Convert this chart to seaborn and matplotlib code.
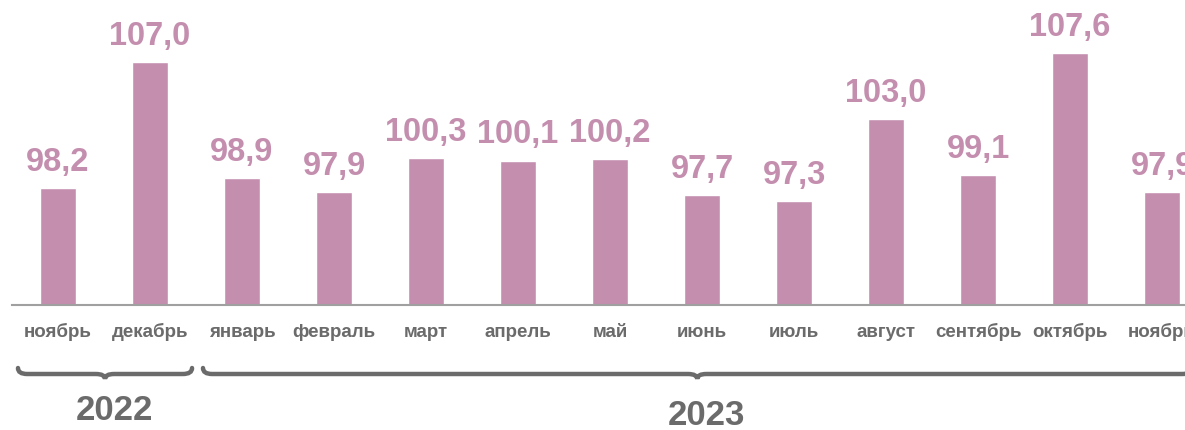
import matplotlib
matplotlib.use('Agg')
import matplotlib.pyplot as plt
import matplotlib.transforms as mtransforms
from matplotlib.path import Path
from matplotlib.patches import PathPatch
import seaborn as sns

# data
months = ['ноябрь', 'декабрь', 'январь', 'февраль', 'март', 'апрель', 'май',
          'июнь', 'июль', 'август', 'сентябрь', 'октябрь', 'ноябрь']
values = [98.2, 107.0, 98.9, 97.9, 100.3, 100.1, 100.2, 97.7, 97.3, 103.0, 99.1, 107.6, 97.9]
years = ['2022', '2023']

bar_color = '#C48EAF'
grey = '#6B6B6B'

sns.set_style('white')
plt.rcParams['font.family'] = ['Liberation Sans', 'DejaVu Sans']

fig = plt.figure(figsize=(11.85, 4.31), dpi=100)
ax = fig.add_axes([12 / 1185, 1 - 306 / 431, 1 - 12 / 1185, 306 / 431])

pos = list(range(len(values)))
sns.barplot(x=pos, y=values, color=bar_color, width=0.4, saturation=1, ax=ax)

ax.set_xlim(-0.5, 12.25)
ax.set_ylim(90, 111.4)

for i, v in zip(pos, values):
    ax.annotate(f'{v:.1f}'.replace('.', ','), (i, v), xytext=(0, 8), textcoords='offset points',
                ha='center', va='bottom', fontsize=23.5, fontweight='bold', color=bar_color)

ax.set_xticks(pos)
ax.set_xticklabels(months, fontsize=13.5, fontweight='bold', color=grey)
for t in ax.get_xticklabels():
    t.set_va('baseline')
ax.tick_params(axis='x', length=0, pad=22)
ax.set_yticks([])
ax.set_xlabel('')
ax.set_ylabel('')
for s in ['top', 'left', 'right']:
    ax.spines[s].set_visible(False)
ax.spines['bottom'].set_color('#A0A0A0')
ax.spines['bottom'].set_linewidth(1.5)

# year braces under the month labels
trans = mtransforms.blended_transform_factory(ax.transData, fig.transFigure)


def brace(x0, x1, r=0.1):
    xm = (x0 + x1) / 2
    yt = 1 - 369 / 431
    yb = 1 - 375 / 431
    yp = 1 - 380 / 431
    verts = [(x0, yt), (x0, yb), (x0 + r, yb),
             (xm - r, yb), (xm, yb), (xm, yp),
             (xm, yb), (xm + r, yb),
             (x1 - r, yb), (x1, yb), (x1, yt)]
    codes = [Path.MOVETO, Path.CURVE3, Path.CURVE3,
             Path.LINETO, Path.CURVE3, Path.CURVE3,
             Path.CURVE3, Path.CURVE3,
             Path.LINETO, Path.CURVE3, Path.CURVE3]
    patch = PathPatch(Path(verts, codes), transform=trans, fill=False,
                      edgecolor=grey, linewidth=3.2, capstyle='round', clip_on=False)
    fig.add_artist(patch)
    return xm


b1 = brace(-0.435, 1.457)
b2 = brace(1.576, 12.32)
ax.text(b1 + 0.1, 1 - 411 / 431, years[0], transform=trans, ha='center', va='center',
        fontsize=25, fontweight='bold', color=grey)
ax.text(b2 + 0.1, 1 - 416 / 431, years[1], transform=trans, ha='center', va='center',
        fontsize=25, fontweight='bold', color=grey)

fig.savefig('out.png', dpi=100)
